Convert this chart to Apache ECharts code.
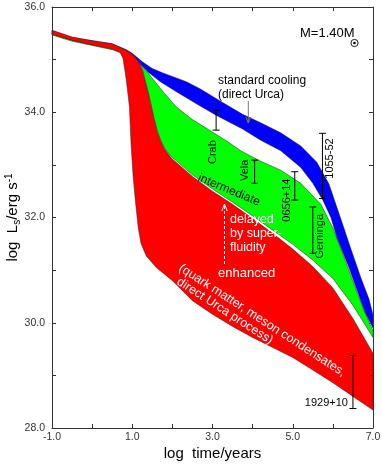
<!DOCTYPE html>
<html>
<head>
<meta charset="utf-8">
<script src="https://cdn.jsdelivr.net/npm/echarts@6.0.0/dist/echarts.min.js"></script>
<style>
  html, body { margin: 0; padding: 0; background: #fff; }
  #chart { width: 382px; height: 465px; }
</style>
</head>
<body>
<div id="chart"></div>
<script>
// cooling bands, points are [log t (yr), log Ls (erg/s)]
const blueTop = [[-1, 35.55], [-0.5, 35.42], [0, 35.36], [0.5, 35.3], [0.85, 35.19], [1.0, 35.12], [1.25, 34.96], [1.5, 34.83], [1.75, 34.75], [2.0, 34.68], [2.35, 34.58], [2.7, 34.44], [3.2, 34.21], [3.75, 33.96], [4.2, 33.8], [4.7, 33.61], [5.2, 33.36], [5.6, 33.05], [5.9, 32.64], [6.2, 31.97], [6.45, 31.4], [6.7, 30.85], [6.9, 30.45], [7.0, 30.15]];
const blueBottom = [[-1, 35.49], [-0.5, 35.37], [0, 35.29], [0.5, 35.22], [0.85, 35.13], [1.0, 35.07], [1.2, 34.92], [1.4, 34.76], [1.7, 34.58], [2.1, 34.39], [2.6, 34.16], [3.1, 33.94], [3.75, 33.68], [4.2, 33.47], [4.7, 33.27], [5.2, 32.95], [5.5, 32.65], [5.75, 32.33], [5.95, 32.0], [6.1, 31.62], [6.4, 31.05], [6.6, 30.62], [6.8, 30.2], [7.0, 29.9]];
const greenTop = [[-1, 35.5], [-0.5, 35.38], [0, 35.3], [0.5, 35.23], [0.85, 35.14], [1.0, 35.08], [1.2, 34.92], [1.4, 34.74], [1.6, 34.55], [1.8, 34.36], [2.1, 34.1], [2.5, 33.86], [2.9, 33.67], [3.4, 33.43], [3.7, 33.27], [4.2, 33.07], [4.7, 32.9], [5.2, 32.65], [5.7, 32.25], [6.0, 31.8], [6.3, 31.2], [6.6, 30.58], [6.85, 30.1], [7.0, 29.85]];
const greenBottom = [[-1, 35.47], [-0.5, 35.35], [0, 35.27], [0.5, 35.19], [0.85, 35.11], [1.0, 35.07], [1.1, 35.02], [1.18, 34.94], [1.25, 34.82], [1.32, 34.62], [1.4, 34.38], [1.47, 34.14], [1.54, 33.9], [1.62, 33.66], [1.7, 33.49], [1.8, 33.33], [1.9, 33.22], [2.0, 33.14], [2.5, 32.81], [3.0, 32.54], [3.5, 32.29], [4.0, 32.03], [4.5, 31.76], [5.0, 31.49], [5.5, 31.19], [6.0, 30.84], [6.5, 30.33], [7.0, 29.72]];
const redTop = [[-1, 35.56], [-0.5, 35.43], [0, 35.36], [0.5, 35.3], [0.85, 35.18], [1.0, 35.1], [1.1, 35.02], [1.18, 34.93], [1.25, 34.8], [1.32, 34.6], [1.4, 34.36], [1.47, 34.12], [1.54, 33.88], [1.62, 33.64], [1.7, 33.47], [1.8, 33.31], [1.9, 33.2], [2.0, 33.11], [2.5, 32.78], [3.0, 32.5], [3.5, 32.25], [4.0, 31.98], [4.5, 31.7], [5.0, 31.4], [5.5, 31.07], [6.0, 30.66], [6.5, 30.08], [7.0, 29.42]];
const redBottom = [[-1, 35.48], [-0.5, 35.37], [0, 35.28], [0.5, 35.2], [0.7, 35.13], [0.77, 35.02], [0.85, 34.62], [0.93, 34.1], [0.97, 33.4], [1.02, 32.8], [1.08, 32.3], [1.15, 31.8], [1.22, 31.5], [1.35, 31.27], [1.6, 31.05], [2.0, 30.8], [2.5, 30.42], [3.0, 30.16], [3.5, 29.93], [4.0, 29.72], [4.5, 29.53], [5.0, 29.34], [5.5, 29.1], [6.0, 28.86], [6.5, 28.6], [7.0, 28.34]];

// observed pulsars (error bars)
const pulsarNames = ['Crab', 'Vela', '0656+14', 'Geminga', '1055-52', '1929+10'];
const pulsarAge = [3.09, 4.05, 5.05, 5.5, 5.74, 6.5];
const pulsarLumHigh = [34.04, 33.09, 32.87, 32.2, 33.6, 29.38];
const pulsarLumLow = [33.66, 32.65, 32.33, 31.32, 32.36, 28.37];

// label placement relative to the lower end of each bar (px), rotated or not
const labelPlace = [
    { dx: -3.5, dy: 22, rot: true },
    { dx: -10, dy: -13, rot: true },
    { dx: -8, dy: 0, rot: true },
    { dx: 7, dy: -17, rot: true },
    { dx: 7.5, dy: -40, rot: true },
    { dx: -5, dy: -6, rot: false }
];

const FONT = 'Liberation Sans, Arial, Helvetica, sans-serif';

const chartDom = document.getElementById('chart');
const myChart = echarts.init(chartDom);

function bandRender(top, bottom, color) {
    return function (params, api) {
        const pts = top.map(p => api.coord(p))
            .concat(bottom.slice().reverse().map(p => api.coord(p)));
        return {
            type: 'polygon',
            shape: { points: pts },
            style: { fill: color, stroke: '#222', lineWidth: 0.5 }
        };
    };
}

function bandSeries(top, bottom, color, z) {
    return {
        type: 'custom',
        coordinateSystem: 'cartesian2d',
        renderItem: bandRender(top, bottom, color),
        data: [[top[0][0], top[0][1]]],
        silent: true,
        z: z
    };
}

function barRender(params, api) {
    const i = api.value(3);
    const lo = api.coord([api.value(0), api.value(1)]);
    const hi = api.coord([api.value(0), api.value(2)]);
    const cap = 3.5;
    const lp = labelPlace[i];
    const ls = { stroke: '#000', lineWidth: 1 };
    return {
        type: 'group',
        children: [
            { type: 'line', shape: { x1: lo[0], y1: lo[1], x2: hi[0], y2: hi[1] }, style: ls },
            { type: 'line', shape: { x1: lo[0] - cap, y1: lo[1], x2: lo[0] + cap, y2: lo[1] }, style: ls },
            { type: 'line', shape: { x1: hi[0] - cap, y1: hi[1], x2: hi[0] + cap, y2: hi[1] }, style: ls },
            {
                type: 'text',
                x: lo[0] + lp.dx,
                y: lo[1] + lp.dy,
                rotation: lp.rot ? Math.PI / 2 : 0,
                style: {
                    text: pulsarNames[i],
                    fill: '#000',
                    fontSize: 11,
                    fontFamily: FONT,
                    align: lp.rot ? 'center' : 'right',
                    verticalAlign: 'middle'
                }
            }
        ]
    };
}

const axisCommon = {
    type: 'value',
    splitLine: { show: false },
    axisLine: { onZero: false, lineStyle: { color: '#333', width: 1 } },
    axisTick: { inside: true, length: 4, lineStyle: { color: '#333' } }
};

function txt(x, y, text, opts) {
    return Object.assign({
        type: 'text', x: x, y: y, z: 100,
        style: Object.assign({
            text: text, fill: '#000', fontSize: 12, fontFamily: FONT,
            align: 'left', verticalAlign: 'middle'
        }, opts && opts.style)
    }, opts && opts.el);
}

const option = {
    animation: false,
    grid: { left: 52, right: 9, top: 7, bottom: 37, containLabel: false, outerBoundsMode: 'none' },
    xAxis: [
        Object.assign({}, axisCommon, {
            min: -1, max: 7, interval: 1, position: 'bottom', z: 10,
            axisLabel: {
                formatter: v => ((Math.round(v) + 1) % 2 === 0 ? v.toFixed(1) : ''),
                fontSize: 10.5, color: '#333', fontFamily: FONT, margin: 4
            },
            name: 'log  time/years',
            nameLocation: 'middle',
            nameGap: 18,
            nameMoveOverlap: false,
            nameTextStyle: { fontSize: 15, color: '#000', fontFamily: FONT }
        }),
        Object.assign({}, axisCommon, {
            min: -1, max: 7, interval: 1, position: 'top', z: 10,
            axisLabel: { show: false }
        })
    ],
    yAxis: [
        Object.assign({}, axisCommon, {
            min: 28, max: 36, interval: 1, position: 'left', z: 10,
            axisLabel: {
                formatter: v => (Math.round(v) % 2 === 0 ? v.toFixed(1) : ''),
                fontSize: 10.5, color: '#333', fontFamily: FONT, margin: 7
            },
            name: 'log  L{sub|s}/erg s{sup|-1}',
            nameLocation: 'middle',
            nameGap: 30,
            nameMoveOverlap: false,
            nameTextStyle: {
                fontSize: 15, color: '#000', fontFamily: FONT,
                rich: {
                    sub: { fontSize: 10, fontFamily: FONT, verticalAlign: 'bottom', padding: [8, 0, 0, 0] },
                    sup: { fontSize: 10, fontFamily: FONT, verticalAlign: 'top', padding: [0, 0, 8, 0] }
                }
            }
        }),
        Object.assign({}, axisCommon, {
            min: 28, max: 36, interval: 1, position: 'right', z: 10,
            axisLabel: { show: false }
        })
    ],
    series: [
        bandSeries(greenTop, greenBottom, '#00ff00', 2),
        bandSeries(blueTop, blueBottom, '#0000ff', 3),
        bandSeries(redTop, redBottom, '#ff0000', 4),
        {
            type: 'custom',
            coordinateSystem: 'cartesian2d',
            renderItem: barRender,
            data: pulsarAge.map((a, i) => [a, pulsarLumLow[i], pulsarLumHigh[i], i]),
            silent: true,
            z: 6
        }
    ],
    graphic: [
        txt(300, 33, 'M=1.40M', { style: { fontSize: 13 } }),
        { type: 'circle', z: 100, shape: { cx: 354.5, cy: 43, r: 3.6 }, style: { fill: 'none', stroke: '#000', lineWidth: 0.9 } },
        { type: 'circle', z: 100, shape: { cx: 354.5, cy: 43, r: 1.3 }, style: { fill: '#000' } },

        txt(218, 81, 'standard cooling'),
        txt(218, 95, '(direct Urca)'),
        { type: 'line', z: 100, shape: { x1: 248.3, y1: 101, x2: 248.3, y2: 123 }, style: { stroke: '#777', lineWidth: 1 } },
        { type: 'polyline', z: 100, shape: { points: [[245.8, 117], [248.3, 123], [250.8, 117]] }, style: { stroke: '#777', lineWidth: 1, fill: 'none' } },

        txt(229, 190, 'intermediate', { style: { align: 'center' }, el: { rotation: -0.396 } }),

        txt(230, 220, 'delayed', { style: { fill: '#fff', fontSize: 12.5 } }),
        txt(230, 234, 'by super-', { style: { fill: '#fff', fontSize: 12.5 } }),
        txt(230, 248, 'fluidity', { style: { fill: '#fff', fontSize: 12.5 } }),
        { type: 'line', z: 100, shape: { x1: 224.5, y1: 264, x2: 224.5, y2: 206 }, style: { stroke: '#fff', lineWidth: 1, lineDash: [3, 2] } },
        { type: 'polyline', z: 100, shape: { points: [[221.8, 211], [224.5, 204], [227.2, 211]] }, style: { stroke: '#fff', lineWidth: 1, fill: 'none' } },
        txt(218, 273, 'enhanced', { style: { fill: '#fff', fontSize: 13 } }),

        txt(180, 267, '(quark matter, meson condensates,', { style: { fill: '#fff', fontSize: 12.5 }, el: { rotation: -0.576 } }),
        txt(178, 280.5, 'direct Urca process)', { style: { fill: '#fff', fontSize: 12.5 }, el: { rotation: -0.576 } })
    ]
};

myChart.setOption(option);

window.addEventListener('resize', () => {
    myChart.resize();
});
</script>
</body>
</html>
